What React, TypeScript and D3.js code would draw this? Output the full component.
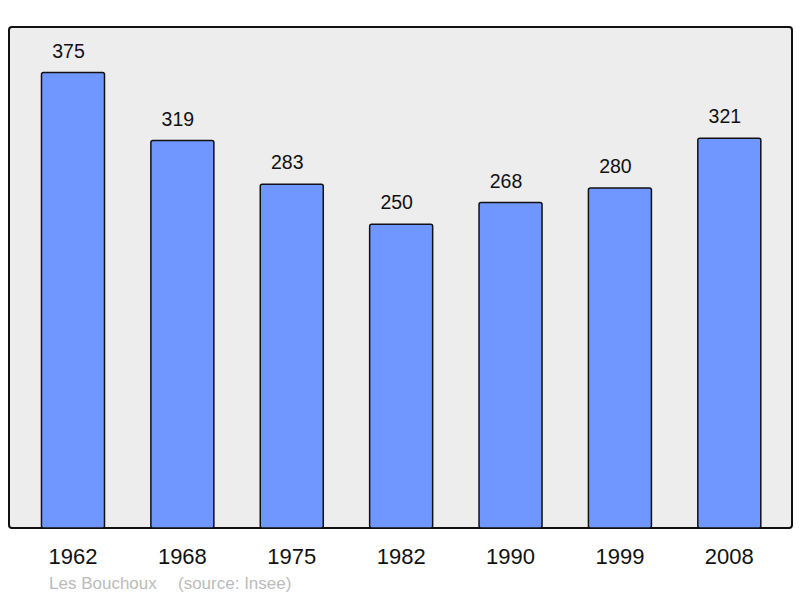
import { scaleBand, scaleLinear } from "d3";

const years = ["1962", "1968", "1975", "1982", "1990", "1999", "2008"];
const population = [375, 319, 283, 250, 268, 280, 321];
const placeName = "Les Bouchoux";
const sourceNote = "(source: Insee)";

const W = 800;
const H = 598;
const PANEL = { left: 9, top: 27, right: 792, bottom: 528 };

export default function App() {
  const x = scaleBand<string>()
    .domain(years)
    .range([18.3, 784])
    .paddingInner(0.424)
    .paddingOuter(0.212);
  const y = scaleLinear()
    .domain([0, 375 * 1.1])
    .range([PANEL.bottom, PANEL.top]);
  const font = "'Liberation Sans', Arial, sans-serif";

  return (
    <svg
      width={W}
      height={H}
      style={{ position: "absolute", left: 0, top: 0 }}
      fontFamily={font}
    >
      <rect x={0} y={0} width={W} height={H} fill="#fff" />
      <rect
        x={PANEL.left}
        y={PANEL.top}
        width={PANEL.right - PANEL.left}
        height={PANEL.bottom - PANEL.top}
        rx={3}
        fill="#ededed"
        stroke="#111"
        strokeWidth={2}
      />
      {years.map((yr, i) => {
        const v = population[i];
        const bx = x(yr) ?? 0;
        const cx = bx + x.bandwidth() / 2;
        return (
          <g key={yr}>
            <rect
              x={bx}
              y={y(v)}
              width={x.bandwidth()}
              height={PANEL.bottom - y(v)}
              rx={2}
              fill="#6f97ff"
              stroke="#111"
              strokeWidth={1.5}
            />
            <text x={cx - 4.5} y={y(v) - 15} textAnchor="middle" fontSize={19.5} fill="#111">
              {v}
            </text>
            <text x={cx} y={564} textAnchor="middle" fontSize={22} fill="#111">
              {yr}
            </text>
          </g>
        );
      })}
      <text x={49} y={589} fontSize={17} fill="#bbb">
        {placeName}
      </text>
      <text x={178} y={589} fontSize={17} fill="#bbb">
        {sourceNote}
      </text>
    </svg>
  );
}
